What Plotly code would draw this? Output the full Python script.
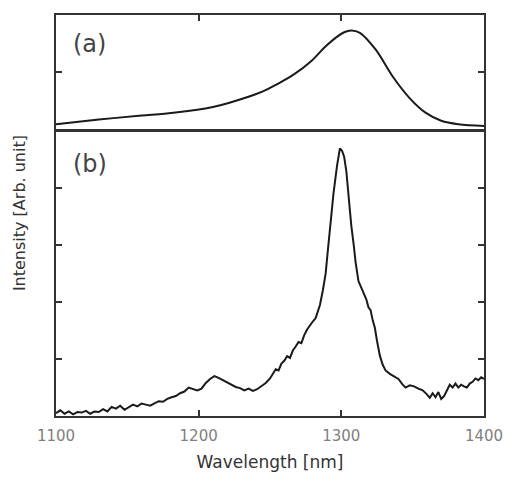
import plotly.graph_objects as go

# Panel (a): smooth spectrum
wl_a = [1100, 1130, 1160, 1176, 1199, 1210, 1221, 1245, 1256, 1267, 1279, 1290,
        1302, 1307, 1313, 1324, 1336, 1348, 1359, 1370, 1382, 1400]
int_a = [0.10, 0.18, 0.25, 0.28, 0.35, 0.40, 0.47, 0.67, 0.81, 0.97, 1.20, 1.48,
         1.70, 1.73, 1.69, 1.40, 0.93, 0.55, 0.30, 0.16, 0.10, 0.07]

# Panel (b): noisy spectrum with sharp peak
wl_b = [1100, 1103, 1106, 1109, 1112, 1115, 1118, 1121, 1124, 1127, 1130, 1133, 1136, 1139,
        1142, 1145, 1148, 1151, 1154, 1157, 1160, 1163, 1166, 1169, 1172, 1175, 1178, 1181,
        1184, 1187, 1190, 1193, 1196, 1199, 1202, 1205, 1208, 1211, 1214, 1217, 1220, 1223,
        1226, 1229, 1232, 1235, 1238, 1241, 1244, 1247, 1250, 1252, 1254, 1256, 1258, 1260,
        1262, 1264, 1266, 1268, 1270, 1272, 1274, 1276, 1278, 1280, 1282, 1283.5, 1285, 1287,
        1289, 1290, 1292, 1294.5, 1297, 1299,
        1300.5, 1302, 1303.5, 1305, 1307, 1308.7, 1310, 1312, 1314.5, 1316, 1317.5, 1319, 1320.5,
        1322, 1323.5, 1325, 1327, 1329, 1331, 1334, 1337, 1340, 1343, 1345, 1348, 1351, 1354,
        1357, 1360, 1362,
        1364, 1366, 1368, 1370, 1372, 1374, 1376, 1378, 1380, 1382, 1384, 1386, 1388, 1390,
        1392, 1394, 1396, 1398, 1400]
int_b = [0.05, 0.10, 0.04, 0.08, 0.03, 0.07, 0.06, 0.09, 0.04, 0.08, 0.07, 0.12, 0.08, 0.16,
         0.13, 0.18, 0.11, 0.15, 0.20, 0.17, 0.22, 0.20, 0.18, 0.22, 0.26, 0.25, 0.30, 0.33,
         0.35, 0.40, 0.43, 0.50, 0.47, 0.45, 0.48, 0.58, 0.65, 0.70, 0.67, 0.63, 0.60, 0.55,
         0.51, 0.49, 0.45, 0.48, 0.44, 0.47, 0.52, 0.58, 0.66, 0.74, 0.82, 0.80, 0.92, 0.97,
         1.05, 1.02, 1.15, 1.22, 1.30, 1.28, 1.42, 1.52, 1.58, 1.66, 1.72, 1.82, 1.95, 2.20,
         2.50, 2.77, 3.34, 3.91, 4.40, 4.70,
         4.66, 4.55, 4.30, 3.85, 3.34, 3.00, 2.70, 2.37, 2.22, 2.14, 2.05, 1.91, 1.86,
         1.68, 1.55, 1.32, 1.06, 0.90, 0.80, 0.74, 0.69, 0.65, 0.55, 0.50, 0.54, 0.52, 0.48,
         0.45, 0.38, 0.32,
         0.40, 0.33, 0.42, 0.30, 0.35, 0.45, 0.55, 0.50, 0.57, 0.50, 0.55, 0.52, 0.50, 0.57,
         0.60, 0.66, 0.63, 0.68, 0.65]

x_ticks = [1100, 1200, 1300, 1400]
x_title = "Wavelength [nm]"
y_title = "Intensity [Arb. unit]"
panel_labels = ["(a)", "(b)"]

LINE = "#333333"
FONT = "DejaVu Sans, Verdana, sans-serif"

fig = go.Figure()
fig.add_trace(go.Scatter(x=wl_a, y=int_a, mode="lines", line=dict(color="#1a1a1a", width=2, shape="spline"),
                         xaxis="x2", yaxis="y2", showlegend=False))
fig.add_trace(go.Scatter(x=wl_b, y=int_b, mode="lines", line=dict(color="#1a1a1a", width=2),
                         xaxis="x", yaxis="y", showlegend=False))

axis_common = dict(showgrid=False, zeroline=False, showline=True, linecolor=LINE, linewidth=2,
                   ticks="inside", ticklen=6, tickwidth=1.5, tickcolor=LINE)

fig.update_layout(
    width=515, height=481,
    margin=dict(l=56, r=22, t=15, b=56),
    paper_bgcolor="white", plot_bgcolor="white",
    font=dict(family=FONT, color="#333333"),
    xaxis=dict(range=[1100, 1400], tickvals=x_ticks, mirror=True, anchor="y",
               tickfont=dict(size=15, color="#808080"), ticklabelstandoff=5,
               title=dict(text=x_title, font=dict(size=17, color="#333333"), standoff=12),
               **axis_common),
    yaxis=dict(range=[0, 5], tickvals=[1, 2, 3, 4], showticklabels=False, mirror="ticks",
               domain=[0, 0.7098], anchor="x", **axis_common),
    xaxis2=dict(range=[1100, 1400], tickvals=x_ticks, side="top", mirror=True, anchor="y2",
                showticklabels=False, **axis_common),
    yaxis2=dict(range=[0, 2], tickvals=[1], showticklabels=False, mirror="ticks",
                domain=[0.7134, 1], anchor="x2", **axis_common),
    annotations=[
        dict(text=y_title, xref="paper", yref="paper", x=-0.085, y=0.505, textangle=-90,
             showarrow=False, font=dict(size=16, color="#333333"), xanchor="center", yanchor="middle"),
        dict(text=panel_labels[0], xref="x2 domain", yref="y2 domain", x=0.035, y=0.75,
             showarrow=False, font=dict(size=24, color="#444444"), xanchor="left", yanchor="middle"),
        dict(text=panel_labels[1], xref="x domain", yref="y domain", x=0.035, y=0.885,
             showarrow=False, font=dict(size=24, color="#444444"), xanchor="left", yanchor="middle"),
    ],
)

fig.write_html("out.html")
